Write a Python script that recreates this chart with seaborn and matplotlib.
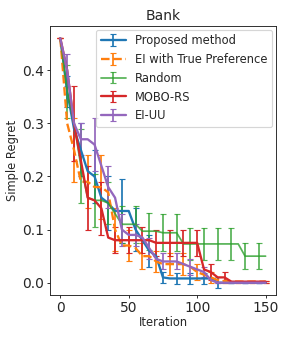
import numpy as np
import matplotlib
matplotlib.use("Agg")
import matplotlib.pyplot as plt
import seaborn as sns

sns.set_style("ticks")
plt.rcParams['font.family'] = ['DejaVu Sans']

# iterations (sampled every 5)
iters = list(range(0, 155, 5))

proposed = [0.46, 0.36, 0.29, 0.25, 0.21, 0.20, 0.16, 0.15, 0.135, 0.135, 0.135, 0.10, 0.08, 0.06, 0.05,
            0.01, 0.008, 0.008, 0.008, 0.008, 0.008, 0.008, 0.008, 0.0, 0.0, 0.0, 0.0, 0.0, 0.0, 0.0, 0.0]
proposed_err = [0.0, 0.03, 0.10, 0.05, 0.05, 0.05, 0.05, 0.05, 0.06, 0.06, 0.065, 0.04, 0.035, 0.03, 0.03,
                0.01, 0.01, 0.01, 0.01, 0.01, 0.01, 0.01, 0.01, 0.01, 0.0, 0.0, 0.0, 0.0, 0.0, 0.0, 0.0]

ei_true = [0.46, 0.30, 0.25, 0.19, 0.19, 0.18, 0.18, 0.17, 0.10, 0.07, 0.07, 0.065, 0.05, 0.05, 0.04,
           0.035, 0.035, 0.035, 0.035, 0.03, 0.02, 0.015, 0.01, 0.005, 0.003, 0.002, 0.002, 0.002, 0.002, 0.002, 0.002]
ei_true_err = [0.0, 0.05, 0.06, 0.04, 0.05, 0.06, 0.06, 0.06, 0.04, 0.03, 0.03, 0.03, 0.025, 0.025, 0.02,
               0.02, 0.02, 0.02, 0.02, 0.02, 0.015, 0.015, 0.01, 0.005, 0.003, 0.002, 0.002, 0.002, 0.002, 0.002, 0.002]

random_ = [0.46, 0.36, 0.30, 0.22, 0.16, 0.155, 0.155, 0.15, 0.13, 0.11, 0.11, 0.11, 0.097, 0.097, 0.097,
           0.094, 0.094, 0.094, 0.073, 0.073, 0.073, 0.073, 0.073, 0.073, 0.073, 0.073, 0.073, 0.05, 0.05, 0.05, 0.05]
random_err = [0.0, 0.05, 0.06, 0.07, 0.06, 0.05, 0.05, 0.04, 0.04, 0.035, 0.035, 0.035, 0.035, 0.035, 0.035,
              0.035, 0.035, 0.035, 0.03, 0.03, 0.03, 0.03, 0.03, 0.03, 0.03, 0.03, 0.03, 0.025, 0.025, 0.025, 0.025]

mobo_rs = [0.46, 0.40, 0.30, 0.23, 0.16, 0.155, 0.14, 0.085, 0.08, 0.08, 0.08, 0.08, 0.08, 0.08, 0.075,
           0.075, 0.075, 0.075, 0.075, 0.075, 0.075, 0.025, 0.02, 0.01, 0.01, 0.002, 0.002, 0.002, 0.002, 0.002, 0.002]
mobo_rs_err = [0.0, 0.04, 0.07, 0.06, 0.06, 0.05, 0.05, 0.03, 0.025, 0.025, 0.025, 0.025, 0.025, 0.025, 0.025,
               0.025, 0.025, 0.025, 0.025, 0.025, 0.025, 0.02, 0.015, 0.01, 0.01, 0.002, 0.002, 0.002, 0.002, 0.002, 0.002]

ei_uu = [0.46, 0.40, 0.30, 0.27, 0.27, 0.26, 0.22, 0.18, 0.16, 0.10, 0.09, 0.09, 0.085, 0.065, 0.045,
         0.04, 0.04, 0.04, 0.035, 0.03, 0.025, 0.02, 0.005, 0.0, 0.0, 0.0, 0.0, 0.0, 0.0, 0.0, 0.0]
ei_uu_err = [0.0, 0.03, 0.05, 0.03, 0.03, 0.05, 0.05, 0.04, 0.04, 0.03, 0.02, 0.02, 0.02, 0.02, 0.015,
             0.015, 0.015, 0.015, 0.015, 0.015, 0.015, 0.01, 0.005, 0.0, 0.0, 0.0, 0.0, 0.0, 0.0, 0.0, 0.0]

labels = ["Proposed method", "EI with True Preference", "Random", "MOBO-RS", "EI-UU"]

colors = sns.color_palette("tab10")

# figure drawn at 3.5x4.08 in, saved at 291x339 px
dpi = 291 / 3.5
fig = plt.figure(figsize=(3.5, 339 / dpi), dpi=dpi)
ax = fig.add_axes([0.172, 0.13, 0.776, 0.793])

series = [
    (proposed, proposed_err, "-", (1, 2)),
    (ei_true, ei_true_err, "--", (0, 2)),
    (random_, random_err, "-", (1, 2)),
    (mobo_rs, mobo_rs_err, "-", (0, 2)),
    (ei_uu, ei_uu_err, "-", (1, 2)),
]

for i, (mean, err, ls, ev) in enumerate(series):
    lw = 1.5 if i == 2 else 2
    ax.errorbar(iters, mean, yerr=err, color=colors[i], ls=ls, lw=lw,
                capsize=2.5, elinewidth=1.5, errorevery=ev, label=labels[i],
                alpha=0.8 if i == 2 else 1.0)

ax.set_xticks([0, 50, 100, 150])
ax.set_yticks([0.0, 0.1, 0.2, 0.3, 0.4])
ax.set_ylim(-0.023, 0.483)
ax.tick_params(length=3, pad=2.5, labelsize=12)
ax.set_xlabel("Iteration", labelpad=1)
ax.set_ylabel("Simple Regret", labelpad=2)
ax.set_title("Bank", pad=5, fontsize=12)
ax.legend(loc="upper right", borderaxespad=0.3, handlelength=2.2)

fig.savefig("out.png", dpi=dpi)
